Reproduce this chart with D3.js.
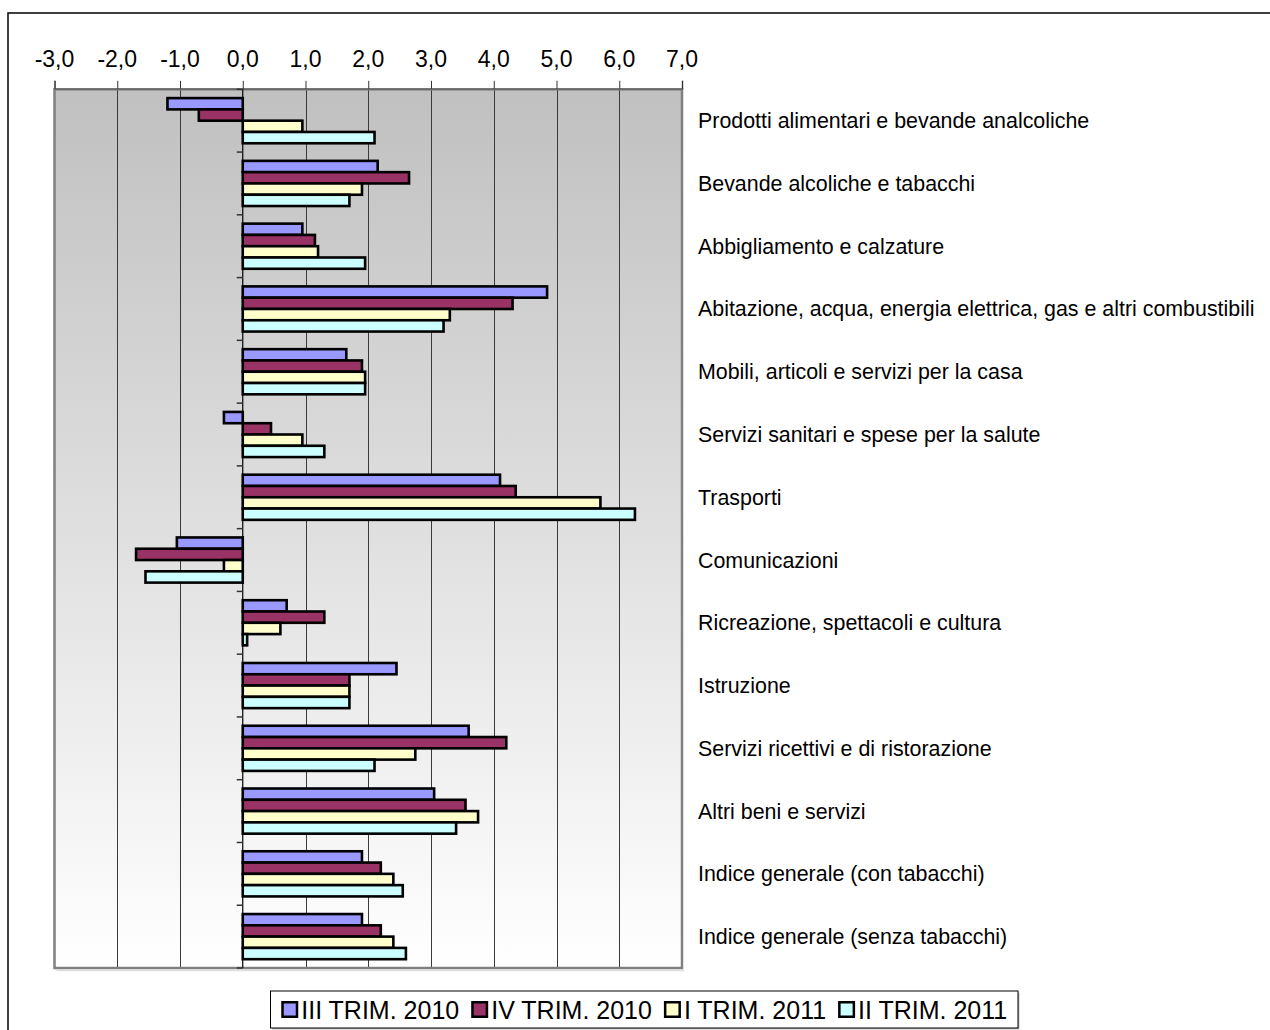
<!DOCTYPE html>
<html>
<head>
<meta charset="utf-8">
<script src="https://cdn.jsdelivr.net/npm/d3@7"></script>
<style>
  html, body { margin: 0; padding: 0; background: #ffffff; }
  svg { display: block; }
  text { font-family: "Liberation Sans", Arial, sans-serif; fill: #000; }
</style>
</head>
<body>
<svg id="chart" width="1270" height="1030"></svg>
<script>
const categories = [
  "Prodotti alimentari e bevande analcoliche",
  "Bevande alcoliche e tabacchi",
  "Abbigliamento e calzature",
  "Abitazione, acqua, energia elettrica, gas e altri combustibili",
  "Mobili, articoli e servizi per la casa",
  "Servizi sanitari e spese per la salute",
  "Trasporti",
  "Comunicazioni",
  "Ricreazione, spettacoli e cultura",
  "Istruzione",
  "Servizi ricettivi e di ristorazione",
  "Altri beni e servizi",
  "Indice generale (con tabacchi)",
  "Indice generale (senza tabacchi)"
];
const seriesNames = ["III TRIM. 2010", "IV TRIM. 2010", "I TRIM. 2011", "II TRIM. 2011"];
const seriesColors = ["#9999ff", "#993366", "#ffffcc", "#ccffff"];
const trim3_2010 = [-1.2, 2.15, 0.95, 4.85, 1.65, -0.3, 4.1, -1.05, 0.7, 2.45, 3.6, 3.05, 1.9, 1.9];
const trim4_2010 = [-0.7, 2.65, 1.15, 4.3, 1.9, 0.45, 4.35, -1.7, 1.3, 1.7, 4.2, 3.55, 2.2, 2.2];
const trim1_2011 = [0.95, 1.9, 1.2, 3.3, 1.95, 0.95, 5.7, -0.3, 0.6, 1.7, 2.75, 3.75, 2.4, 2.4];
const trim2_2011 = [2.1, 1.7, 1.95, 3.2, 1.95, 1.3, 6.25, -1.55, 0.07, 1.7, 2.1, 3.4, 2.55, 2.6];
const tickValues = [-3, -2, -1, 0, 1, 2, 3, 4, 5, 6, 7];

const seriesValues = [trim3_2010, trim4_2010, trim1_2011, trim2_2011];
const svg = d3.select("#chart");

// outer chart border
svg.append("rect").attr("x", 8).attr("y", 13).attr("width", 1300).attr("height", 1100)
  .attr("fill", "#fff").attr("stroke", "#000").attr("stroke-width", 1.5);

const plot = { left: 54.5, right: 682, top: 89.3, bottom: 968 };

const x = d3.scaleLinear().domain([-3, 7]).range([plot.left, plot.right]);
const y0 = d3.scaleBand().domain(categories).range([plot.top, plot.bottom]).paddingInner(0).paddingOuter(0);
const y1 = d3.scaleBand().domain(seriesNames).range([0, y0.bandwidth()]).paddingInner(0).paddingOuter(0.78);

// background gradient
const defs = svg.append("defs");
const grad = defs.append("linearGradient").attr("id", "bg").attr("x1", 0).attr("y1", 0).attr("x2", 0).attr("y2", 1);
grad.append("stop").attr("offset", "0%").attr("stop-color", "#c0c0c0");
grad.append("stop").attr("offset", "100%").attr("stop-color", "#ffffff");

svg.append("rect").attr("x", plot.left).attr("y", plot.top)
  .attr("width", plot.right - plot.left).attr("height", plot.bottom - plot.top)
  .attr("fill", "url(#bg)");

// gridlines
svg.append("g").selectAll("line").data(tickValues.filter(d => d !== 0 && d !== -3 && d !== 7)).join("line")
  .attr("x1", d => Math.round(x(d)) + 0.5).attr("x2", d => Math.round(x(d)) + 0.5)
  .attr("y1", plot.top).attr("y2", plot.bottom)
  .attr("stroke", "#3a3a3a").attr("stroke-width", 1);

// plot frame (gray)
svg.append("line").attr("x1", plot.left + 2).attr("x2", plot.right + 2).attr("y1", plot.bottom + 2.5).attr("y2", plot.bottom + 2.5)
  .attr("stroke", "#e0e0e0").attr("stroke-width", 1.5);
svg.append("rect").attr("x", plot.left).attr("y", plot.top)
  .attr("width", plot.right - plot.left).attr("height", plot.bottom - plot.top)
  .attr("fill", "none").attr("stroke", "#808080").attr("stroke-width", 2.5);

// top axis
const topAxis = d3.axisTop(x).tickValues(tickValues).tickSize(8).tickFormat("");
const ta = svg.append("g").attr("transform", `translate(0,${plot.top - 0.5})`).call(topAxis);
ta.select(".domain").attr("stroke", "#666").attr("stroke-width", 1.5);
ta.selectAll(".tick line").attr("stroke", "#333");

const fmt = v => d3.format(".1f")(v).replace(".", ",").replace("\u2212", "-");
svg.append("g").selectAll("text").data(tickValues).join("text")
  .attr("x", d => x(d)).attr("y", 66.5)
  .attr("text-anchor", "middle").attr("font-size", 23).text(d => fmt(d));

// bars
const groups = svg.append("g").selectAll("g").data(categories).join("g")
  .attr("transform", d => `translate(0,${y0(d)})`);
groups.selectAll("rect").data((d, i) => seriesNames.map((s, j) => ({ s, j, v: seriesValues[j][i] }))).join("rect")
  .attr("x", d => Math.min(x(0), x(d.v)))
  .attr("width", d => Math.abs(x(d.v) - x(0)))
  .attr("y", d => y1(d.s))
  .attr("height", y1.bandwidth())
  .attr("fill", d => seriesColors[d.j])
  .attr("stroke", "#000").attr("stroke-width", 2.6);

// zero axis with category ticks
const za = svg.append("g").attr("transform", `translate(${x(0)},0)`);
za.append("line").attr("x1", 0).attr("x2", 0).attr("y1", plot.top).attr("y2", plot.bottom)
  .attr("stroke", "#000").attr("stroke-width", 1.2);
const boundaries = categories.map(c => y0(c)).concat([plot.bottom]);
za.selectAll("line.tk").data(boundaries).join("line").attr("class", "tk")
  .attr("x1", -6).attr("x2", 0).attr("y1", d => d).attr("y2", d => d)
  .attr("stroke", "#333").attr("stroke-width", 1.5);

// category labels
svg.append("g").selectAll("text").data(categories).join("text")
  .attr("x", 698).attr("y", d => y0(d) + y0.bandwidth() / 2 + 7.5)
  .attr("font-size", 21.4).text(d => d);

// legend
const lg = { x: 270.5, y: 991, w: 747.5, h: 37 };
svg.append("rect").attr("x", lg.x + 1.5).attr("y", lg.y + 1.5).attr("width", lg.w).attr("height", lg.h)
  .attr("fill", "#bbb");
svg.append("rect").attr("x", lg.x).attr("y", lg.y).attr("width", lg.w).attr("height", lg.h)
  .attr("fill", "#fff").attr("stroke", "#000").attr("stroke-width", 1);

const LF = 25;
const legendItems = svg.append("g").selectAll("g").data(seriesNames).join("g");
legendItems.append("rect").attr("class", "sw").attr("width", 14.5).attr("height", 14.5)
  .attr("fill", (d, i) => seriesColors[i]).attr("stroke", "#000").attr("stroke-width", 2.5);
legendItems.append("text").attr("font-size", LF).text(d => d);
const lens = [];
legendItems.selectAll("text").each(function () { lens.push(this.getComputedTextLength()); });
const swW = 17, swGap = 3, itemGap = 12;
const total = d3.sum(lens) + seriesNames.length * (swW + swGap) + (seriesNames.length - 1) * itemGap;
let cx = lg.x + (lg.w - total) / 2;
legendItems.each(function (d, i) {
  const g = d3.select(this);
  g.select("rect.sw").attr("x", cx + 1.25).attr("y", lg.y + lg.h / 2 - 7.25);
  g.select("text").attr("x", cx + swW + swGap).attr("y", lg.y + lg.h / 2 + 9);
  cx += swW + swGap + lens[i] + itemGap;
});
</script>
</body>
</html>
